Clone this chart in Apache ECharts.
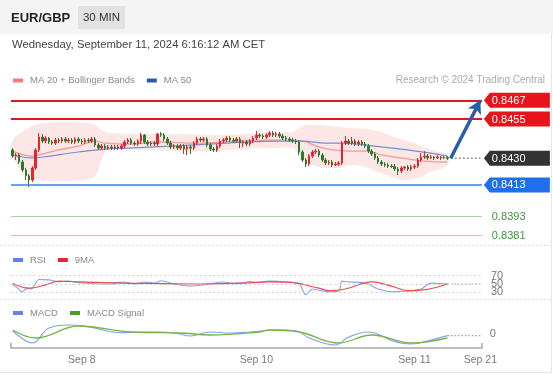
<!DOCTYPE html>
<html><head><meta charset="utf-8">
<script src="https://cdn.jsdelivr.net/npm/echarts@6/dist/echarts.min.js"></script>
<style>html,body{margin:0;padding:0;background:#fff}#c{width:553px;height:375px}</style>
</head><body><div id="c"></div>
<script>
// ---------- DATA ----------
const N = 143;                                   // category slots (133 candles + projection room)
const tickIdx = [21, 74, 122, 142];
const tickLabels = ['Sep 8', 'Sep 10', 'Sep 11', 'Sep 21'];

const opens = [
0.84353,0.84314,0.84321,0.84276,0.84225,0.84187,0.84161,0.84238,0.84353,0.84436,
0.84410,0.84429,0.84404,0.84397,0.84416,0.84410,0.84423,0.84410,0.84416,0.84404,
0.84423,0.84410,0.84404,0.84416,0.84410,0.84423,0.84385,0.84365,0.84378,0.84365,
0.84372,0.84365,0.84372,0.84365,0.84378,0.84404,0.84416,0.84397,0.84391,0.84410,
0.84448,0.84404,0.84391,0.84397,0.84391,0.84455,0.84448,0.84423,0.84397,0.84372,
0.84378,0.84365,0.84378,0.84359,0.84372,0.84365,0.84397,0.84423,0.84416,0.84423,
0.84385,0.84359,0.84353,0.84378,0.84410,0.84416,0.84429,0.84416,0.84410,0.84423,
0.84397,0.84404,0.84391,0.84410,0.84429,0.84448,0.84442,0.84436,0.84448,0.84461,
0.84448,0.84455,0.84442,0.84429,0.84423,0.84416,0.84410,0.84404,0.84340,0.84289,
0.84263,0.84314,0.84340,0.84346,0.84321,0.84289,0.84270,0.84276,0.84257,0.84263,
0.84270,0.84397,0.84410,0.84397,0.84410,0.84391,0.84404,0.84391,0.84378,0.84346,
0.84327,0.84302,0.84276,0.84263,0.84257,0.84250,0.84247,0.84231,0.84219,0.84238,
0.84244,0.84231,0.84244,0.84250,0.84289,0.84308,0.84314,0.84302,0.84308,0.84302,
0.84308,0.84302,0.84305];
const closes = [
0.84314,0.84321,0.84276,0.84225,0.84187,0.84161,0.84238,0.84353,0.84436,0.84410,
0.84429,0.84404,0.84397,0.84416,0.84410,0.84423,0.84410,0.84416,0.84404,0.84423,
0.84410,0.84404,0.84416,0.84410,0.84423,0.84385,0.84365,0.84378,0.84365,0.84372,
0.84365,0.84372,0.84365,0.84378,0.84404,0.84416,0.84397,0.84391,0.84410,0.84448,
0.84404,0.84391,0.84397,0.84391,0.84455,0.84448,0.84423,0.84397,0.84372,0.84378,
0.84365,0.84378,0.84359,0.84372,0.84365,0.84397,0.84423,0.84416,0.84423,0.84385,
0.84359,0.84353,0.84378,0.84410,0.84416,0.84429,0.84416,0.84410,0.84423,0.84397,
0.84404,0.84391,0.84410,0.84429,0.84448,0.84442,0.84436,0.84448,0.84461,0.84448,
0.84455,0.84442,0.84429,0.84423,0.84416,0.84410,0.84404,0.84340,0.84289,0.84263,
0.84314,0.84340,0.84346,0.84321,0.84289,0.84270,0.84276,0.84257,0.84263,0.84270,
0.84397,0.84410,0.84397,0.84410,0.84391,0.84404,0.84391,0.84378,0.84346,0.84327,
0.84302,0.84276,0.84263,0.84257,0.84250,0.84247,0.84231,0.84219,0.84238,0.84244,
0.84231,0.84244,0.84250,0.84289,0.84308,0.84314,0.84302,0.84308,0.84302,0.84308,
0.84302,0.84305,0.84300];
const lows = [
0.84302,0.84289,0.84263,0.84212,0.84161,0.84116,0.84148,0.84225,0.84340,0.84397,
0.84397,0.84391,0.84385,0.84385,0.84397,0.84397,0.84397,0.84397,0.84391,0.84391,
0.84397,0.84391,0.84391,0.84397,0.84397,0.84372,0.84353,0.84353,0.84353,0.84353,
0.84353,0.84353,0.84353,0.84353,0.84365,0.84391,0.84385,0.84378,0.84378,0.84391,
0.84391,0.84378,0.84378,0.84378,0.84378,0.84436,0.84410,0.84385,0.84359,0.84359,
0.84353,0.84353,0.84327,0.84321,0.84327,0.84353,0.84385,0.84404,0.84404,0.84372,
0.84346,0.84340,0.84340,0.84365,0.84397,0.84404,0.84404,0.84397,0.84397,0.84365,
0.84372,0.84378,0.84378,0.84397,0.84416,0.84429,0.84423,0.84423,0.84436,0.84436,
0.84436,0.84429,0.84416,0.84410,0.84404,0.84397,0.84391,0.84321,0.84276,0.84244,
0.84250,0.84302,0.84327,0.84308,0.84276,0.84257,0.84257,0.84244,0.84250,0.84250,
0.84257,0.84385,0.84385,0.84385,0.84378,0.84378,0.84378,0.84365,0.84333,0.84314,
0.84289,0.84263,0.84250,0.84244,0.84238,0.84238,0.84219,0.84193,0.84206,0.84225,
0.84219,0.84219,0.84231,0.84238,0.84276,0.84295,0.84289,0.84295,0.84289,0.84295,
0.84289,0.84295,0.84289];
const highs = [
0.84365,0.84333,0.84333,0.84289,0.84238,0.84199,0.84250,0.84365,0.84461,0.84455,
0.84442,0.84436,0.84416,0.84429,0.84429,0.84436,0.84436,0.84429,0.84429,0.84436,
0.84436,0.84423,0.84429,0.84429,0.84436,0.84436,0.84397,0.84391,0.84391,0.84385,
0.84385,0.84385,0.84385,0.84391,0.84416,0.84429,0.84429,0.84410,0.84423,0.84461,
0.84455,0.84416,0.84410,0.84410,0.84461,0.84468,0.84461,0.84436,0.84410,0.84391,
0.84391,0.84391,0.84391,0.84385,0.84385,0.84410,0.84436,0.84436,0.84436,0.84436,
0.84397,0.84372,0.84391,0.84423,0.84429,0.84442,0.84442,0.84429,0.84436,0.84436,
0.84416,0.84416,0.84423,0.84442,0.84474,0.84461,0.84455,0.84461,0.84474,0.84474,
0.84468,0.84468,0.84455,0.84442,0.84436,0.84429,0.84423,0.84416,0.84353,0.84302,
0.84327,0.84353,0.84359,0.84359,0.84333,0.84302,0.84289,0.84289,0.84276,0.84282,
0.84410,0.84442,0.84423,0.84436,0.84423,0.84416,0.84416,0.84404,0.84391,0.84359,
0.84340,0.84314,0.84289,0.84276,0.84270,0.84263,0.84263,0.84244,0.84250,0.84250,
0.84257,0.84257,0.84263,0.84302,0.84333,0.84346,0.84327,0.84321,0.84314,0.84321,
0.84314,0.84314,0.84314];

// Bollinger band (read at sparse candle indices)
const bandIdx   = [0,3,6,10,16,22,25,27,29,40,50,60,70,80,85,87,89,93,99,102,107,111,115,119,123,127,132];
const bandUpper = [0.84416,0.84468,0.84506,0.84525,0.84531,0.84525,0.84512,0.84480,0.84461,0.84455,0.84455,0.84448,0.84455,0.84468,0.84468,0.84493,0.84512,0.84512,0.84500,0.84493,0.84487,0.84474,0.84442,0.84416,0.84385,0.84353,0.84321];
const bandLower = [0.84302,0.84225,0.84174,0.84155,0.84155,0.84161,0.84187,0.84289,0.84353,0.84353,0.84346,0.84346,0.84359,0.84365,0.84365,0.84321,0.84276,0.84244,0.84238,0.84257,0.84244,0.84212,0.84180,0.84161,0.84174,0.84212,0.84257];

const ma20 = [[0,0.84346],[6,0.84314],[9,0.84327],[14,0.84353],[20,0.84378],[25,0.84410],[28,0.84397],[35,0.84391],[45,0.84404],[55,0.84397],[65,0.84404],[75,0.84416],[85,0.84416],[89,0.84404],[93,0.84372],[97,0.84353],[102,0.84346],[108,0.84346],[112,0.84321],[118,0.84302],[125,0.84282],[132,0.84276]];
const ma50 = [[0,0.84321],[6,0.84302],[9,0.84308],[20,0.84340],[28,0.84359],[35,0.84365],[48,0.84378],[65,0.84397],[80,0.84410],[88,0.84410],[95,0.84397],[100,0.84397],[110,0.84378],[120,0.84353],[127,0.84333],[132,0.84314]];

const resistLevels = [0.8467, 0.8455];
const pivotLevel = 0.8430;
const supportLevels = [0.8413, 0.8393, 0.8381];

const rsi = [[0,48],[1,43],[3,31],[4,38],[6,40],[8,61],[11,60],[14,55],[17,57],[20,53],[23,52],[26,50],[30,50],[32,54],[34,55],[37,50],[40,55],[43,52],[45,58],[49,50],[54,45],[58,48],[61,52],[64,55],[67,51],[69,52],[72,56],[74,54],[78,57],[83,55],[87,50],[89,24],[91,38],[93,35],[96,31],[99,33],[100,57],[102,55],[105,54],[108,50],[111,38],[116,31],[120,33],[124,38],[127,52],[130,51],[132,50]];
const rsiMA = [[0,52],[5,40],[10,48],[14,57],[20,55],[33,52],[45,51],[57,50],[69,52],[78,55],[84,54],[93,40],[96,34],[101,38],[109,55],[115,45],[120,34],[125,36],[132,50]];
const rsiLevels = [70, 50, 30];

const macd = [[0,0.000033],[6,-0.00009],[11,0.00006],[17,0.00009],[23,0.00007],[33,0.000013],[40,0.00002],[45,0.00002],[50,0.000005],[54,-0.00002],[60,0.00002],[66,0.00001],[72,0.00002],[80,0.00004],[83,0.00004],[87,0.000023],[90,-0.00004],[98,-0.00011],[102,-0.00003],[108,0.00002],[116,-0.000077],[121,-0.0001],[127,-0.00006],[132,-0.000017]];
const macdSignal = [[0,0.00004],[7,-0.00004],[20,0.00008],[36,0.00002],[51,0.00001],[60,-0.00001],[75,0.00002],[78,0.00004],[87,0.00002],[99,-0.00009],[109,-0.00001],[121,-0.00009],[132,-0.00004]];

// ---------- CHART ----------
const FONT = '"Liberation Sans", Arial, sans-serif';
const categories = Array.from({length: N}, (_, i) => 'c' + i);
const labelOf = {};
tickIdx.forEach((k, j) => { labelOf[k] = tickLabels[j]; });
const candles = opens.map((o, i) => [o, closes[i], lows[i], highs[i]]);
const last = candles.length - 1;

const chart = echarts.init(document.getElementById('c'), null, {renderer: 'canvas'});

function xAxisFor(g, show) {
  return {
    type: 'category', gridIndex: g, data: categories, boundaryGap: true, show: show,
    axisLine: {show: show, onZero: false, lineStyle: {color: '#a8a8a8', width: 1.5}},
    axisTick: {show: show, inside: true, length: 5, interval: (i) => i === 0, lineStyle: {color: '#a8a8a8', width: 1.5}},
    axisLabel: {show: show, interval: (i) => labelOf[i] !== undefined, formatter: (v, i) => labelOf[i] || '',
      color: '#777', fontSize: 10.5, margin: 7, fontFamily: FONT},
    splitLine: {show: false}
  };
}

const levelLine = (p, color, width) => ({yAxis: p, lineStyle: {color: color, width: width, type: 'solid'}});
const graphicBase = [
  {type: 'rect', shape: {x: 0, y: 0, width: 553, height: 34}, style: {fill: '#f4f4f4'}, silent: true},
  {type: 'text', x: 11, y: 18, style: {text: 'EUR/GBP', fontSize: 13, fontWeight: 'bold', fontFamily: FONT, fill: '#222', verticalAlign: 'middle'}},
  {type: 'rect', shape: {x: 78, y: 6, width: 47, height: 23}, style: {fill: '#e2e2e2'}},
  {type: 'text', x: 101.5, y: 18, style: {text: '30 MIN', fontSize: 11.5, fontFamily: FONT, fill: '#333', align: 'center', verticalAlign: 'middle'}},
  {type: 'text', x: 12, y: 45, style: {text: 'Wednesday, September 11, 2024 6:16:12 AM CET', fontSize: 11.3, fontFamily: FONT, fill: '#444', verticalAlign: 'middle'}},
  {type: 'text', x: 545, y: 80.5, style: {text: 'Research \u00a9 2024 Trading Central', fontSize: 10, fontFamily: FONT, fill: '#aaa', align: 'right', verticalAlign: 'middle'}},
  {type: 'line', shape: {x1: 0, y1: 245.5, x2: 551, y2: 245.5}, style: {stroke: '#dedede', lineWidth: 1, lineDash: [2, 2]}},
  {type: 'line', shape: {x1: 0, y1: 299.5, x2: 551, y2: 299.5}, style: {stroke: '#dedede', lineWidth: 1, lineDash: [2, 2]}},
  {type: 'line', shape: {x1: 551.5, y1: 34, x2: 551.5, y2: 373}, style: {stroke: '#e6e6e6', lineWidth: 1}},
  {type: 'line', shape: {x1: 0, y1: 372.5, x2: 551.5, y2: 372.5}, style: {stroke: '#e6e6e6', lineWidth: 1}}
];

const legendBase = {left: 13, padding: 0, itemWidth: 10, itemHeight: 4, itemGap: 12, icon: 'rect', selectedMode: false,
  textStyle: {color: '#888', fontSize: 9.5, lineHeight: 12, fontFamily: FONT, padding: [0, 0, 0, 2]}};

const option = {
  animation: false,
  textStyle: {fontFamily: FONT},
  grid: [
    {left: 11, width: 471, top: 87.8, height: 156.6},
    {left: 11, width: 471, top: 267.4, height: 33.2},
    {left: 11, width: 471, top: 318, height: 30}
  ],
  xAxis: [xAxisFor(0, false), xAxisFor(1, false), xAxisFor(2, true)],
  yAxis: [
    {gridIndex: 0, show: false, min: 0.8375, max: 0.8475, scale: true, splitLine: {show: false}},
    {gridIndex: 1, show: false, min: 10, max: 90, splitLine: {show: false}},
    {gridIndex: 2, show: false, min: -0.00014, max: 0.00016, splitLine: {show: false}}
  ],
  legend: [
    Object.assign({}, legendBase, {top: 74.5, data: [
      {name: 'MA 20 + Bollinger Bands', itemStyle: {color: '#f47c7c'}},
      {name: 'MA 50', itemStyle: {color: '#2c5ea8'}}]}),
    Object.assign({}, legendBase, {top: 254, data: [
      {name: 'RSI', itemStyle: {color: '#5f84e8'}},
      {name: '9MA', itemStyle: {color: '#e8242c'}}]}),
    Object.assign({}, legendBase, {top: 307, data: [
      {name: 'MACD', itemStyle: {color: '#5f84e8'}},
      {name: 'MACD Signal', itemStyle: {color: '#4c9e1c'}}]})
  ],
  graphic: graphicBase,
  series: [
    {
      name: 'EUR/GBP', type: 'candlestick', xAxisIndex: 0, yAxisIndex: 0, z: 3,
      data: candles, barWidth: 2,
      itemStyle: {color: '#e3262d', color0: '#2e7a30', borderColor: '#e3262d', borderColor0: '#2e7a30', borderWidth: 1}
    },
    {
      name: 'Bands', type: 'custom', xAxisIndex: 0, yAxisIndex: 0, z: 1, silent: true,
      data: bandIdx.map((k, j) => [k, bandUpper[j], bandLower[j]]),
      encode: {x: 0, y: [1, 2]},
      renderItem: function (params, api) {
        if (params.dataIndex !== 0) return null;
        const pts = [];
        for (let k = 0; k < bandIdx.length; k++) pts.push(api.coord([bandIdx[k], bandUpper[k]]));
        for (let k = bandIdx.length - 1; k >= 0; k--) pts.push(api.coord([bandIdx[k], bandLower[k]]));
        return {type: 'polygon', shape: {points: pts, smooth: 0.35}, style: {fill: 'rgba(248,150,150,0.24)'}};
      }
    },
    {
      name: 'MA 20 + Bollinger Bands', type: 'line', xAxisIndex: 0, yAxisIndex: 0, z: 2, data: ma20,
      smooth: 0.4, showSymbol: false, itemStyle: {color: '#f47c7c'}, lineStyle: {color: '#f39a9a', width: 1.3}
    },
    {
      name: 'MA 50', type: 'line', xAxisIndex: 0, yAxisIndex: 0, z: 2, data: ma50,
      smooth: 0.4, showSymbol: false, itemStyle: {color: '#2c5ea8'}, lineStyle: {color: '#7590cc', width: 1.2}
    },
    {
      name: 'pivot', type: 'line', xAxisIndex: 0, yAxisIndex: 0, z: 4,
      data: [[last + 1, pivotLevel], [N - 1, pivotLevel]], showSymbol: false,
      lineStyle: {color: '#999', width: 1.5, type: [2, 2]},
      markLine: {
        silent: true, precision: 5, symbol: ['none', 'none'], label: {show: false},
        data: [
          levelLine(resistLevels[0], '#e8141b', 2),
          levelLine(resistLevels[1], '#e8141b', 2),
          levelLine(supportLevels[0], '#3f7fe6', 1.5),
          levelLine(supportLevels[1], '#a8d6a0', 1),
          levelLine(supportLevels[2], '#a8d6a0', 1),
          [
            {coord: [last + 1, pivotLevel], symbol: 'none', lineStyle: {color: '#2a5ea8', width: 3.5, type: 'solid'}},
            {coord: [N - 1, resistLevels[0]], symbol: 'arrow', symbolSize: [11, 13], lineStyle: {color: '#2a5ea8', width: 3.5, type: 'solid'}}
          ]
        ]
      }
    },
    {
      name: 'RSI', type: 'line', xAxisIndex: 1, yAxisIndex: 1, data: rsi, smooth: 0.3, showSymbol: false,
      itemStyle: {color: '#5f84e8'}, lineStyle: {color: '#86a2ef', width: 1.1},
      markLine: {
        silent: true, symbol: ['none', 'none'],
        lineStyle: {color: '#c6c6c6', width: 1, type: [1.5, 3]},
        label: {show: true, position: 'end', distance: 9, color: '#777', fontSize: 11, formatter: '{c}'},
        data: rsiLevels.map(v => ({yAxis: v}))
      }
    },
    {
      name: '9MA', type: 'line', xAxisIndex: 1, yAxisIndex: 1, data: rsiMA, smooth: 0.4, showSymbol: false,
      itemStyle: {color: '#e8242c'}, lineStyle: {color: '#ec4a50', width: 1.2}
    },
    {
      name: 'rsiExt', type: 'line', xAxisIndex: 1, yAxisIndex: 1, showSymbol: false,
      data: [rsi[rsi.length - 1], [N - 1, rsi[rsi.length - 1][1]]],
      lineStyle: {color: '#86a2ef', width: 1.2, type: [1.5, 2]}
    },
    {
      name: 'MACD', type: 'line', xAxisIndex: 2, yAxisIndex: 2, data: macd, smooth: 0.4, showSymbol: false,
      itemStyle: {color: '#5f84e8'}, lineStyle: {color: '#86a2ef', width: 1.2}
    },
    {
      name: 'MACD Signal', type: 'line', xAxisIndex: 2, yAxisIndex: 2, data: macdSignal, smooth: 0.4, showSymbol: false,
      itemStyle: {color: '#4c9e1c'}, lineStyle: {color: '#77b548', width: 1.3}
    },
    {
      name: 'macdExt', type: 'line', xAxisIndex: 2, yAxisIndex: 2, showSymbol: false,
      data: [macd[macd.length - 1], [N - 1, macd[macd.length - 1][1]]],
      lineStyle: {color: '#86a2ef', width: 1.2, type: [1.5, 2]}
    }
  ]
};
chart.setOption(option);

// price tags at the right, placed through the chart's own y scale
const tagDefs = [
  {p: resistLevels[0], bg: '#e8141b'},
  {p: resistLevels[1], bg: '#e8141b'},
  {p: pivotLevel, bg: '#333333'},
  {p: supportLevels[0], bg: '#1f6fe8'},
  {p: supportLevels[1], bg: null},
  {p: supportLevels[2], bg: null}
];
const xRight = chart.convertToPixel({xAxisIndex: 0, yAxisIndex: 0}, [N - 1, pivotLevel])[0] + 3.5;
const tags = tagDefs.map(t => {
  const y = chart.convertToPixel({xAxisIndex: 0, yAxisIndex: 0}, [0, t.p])[1];
  const children = [];
  if (t.bg) children.push({type: 'polygon', shape: {points: [[0, 0], [6, -7.5], [66, -7.5], [66, 7.5], [6, 7.5]]}, style: {fill: t.bg}});
  children.push({type: 'text', x: 8, y: 0.5, style: {text: t.p.toFixed(4), fontSize: 11, fontFamily: FONT,
    fill: t.bg ? '#fff' : '#3a9a35', verticalAlign: 'middle'}});
  return {type: 'group', x: xRight, y: y, children: children};
});
const zeroY = chart.convertToPixel({xAxisIndex: 2, yAxisIndex: 2}, [0, 0])[1];
tags.push({type: 'text', x: xRight + 6, y: zeroY, style: {text: '0', fontSize: 11, fontFamily: FONT, fill: '#777', verticalAlign: 'middle'}});
chart.setOption({graphic: graphicBase.concat(tags)});
</script>
</body></html>
